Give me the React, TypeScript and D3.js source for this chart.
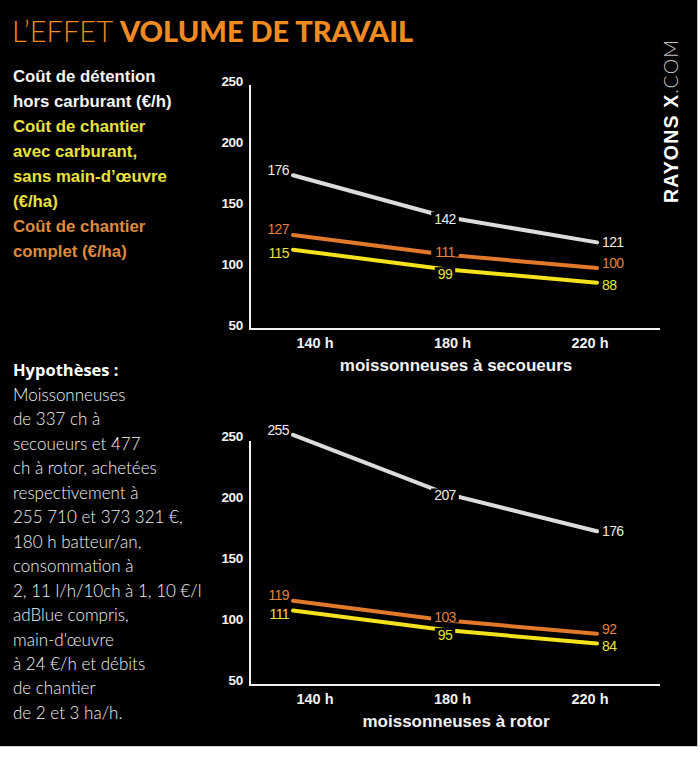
import React from "react";
import * as d3 from "d3";

const categories = ["140 h", "180 h", "220 h"];
const yTicks = [50, 100, 150, 200, 250];

const secoueursDetention = [176, 142, 121];
const secoueursComplet = [127, 111, 100];
const secoueursSansMO = [115, 99, 88];

const rotorDetention = [255, 207, 176];
const rotorComplet = [119, 103, 92];
const rotorSansMO = [111, 95, 84];

const legendLines = [
  { text: "Coût de détention", key: "white" },
  { text: "hors carburant (€/h)", key: "white" },
  { text: "Coût de chantier", key: "yellow" },
  { text: "avec carburant,", key: "yellow" },
  { text: "sans main-d’œuvre", key: "yellow" },
  { text: "(€/ha)", key: "yellow" },
  { text: "Coût de chantier", key: "orange" },
  { text: "complet (€/ha)", key: "orange" },
];

const hypothesesLines = [
  "Moissonneuses",
  "de 337 ch à",
  "secoueurs et 477",
  "ch à rotor, achetées",
  "respectivement à",
  "255 710 et 373 321 €,",
  "180 h batteur/an,",
  "consommation à",
  "2, 11 l/h/10ch à 1, 10 €/l",
  "adBlue compris,",
  "main-d'œuvre",
  "à 24 €/h et débits",
  "de chantier",
  "de 2 et 3 ha/h.",
];

const LINE_COLORS: Record<string, string> = {
  white: "#dcdcdc",
  orange: "#e2782a",
  yellow: "#f3e21c",
};
const LABEL_COLORS: Record<string, string> = {
  white: "#ececec",
  orange: "#e3843a",
  yellow: "#ebe03a",
};
const LEGEND_COLORS: Record<string, string> = {
  white: "#f4f4f4",
  orange: "#df8a3c",
  yellow: "#e9e23e",
};
// vertical label offsets per series: [first, middle, last]
const LABEL_OFFSETS: Record<string, number[]> = {
  white: [-5, 1, 0],
  orange: [-6, -4, -5],
  yellow: [3, 4, 2],
};

const NUM_FONT = "'Liberation Sans', Arial, sans-serif";

type Series = { key: string; values: number[] };

function Chart({
  yRange,
  series,
  title,
  titleY,
  labelDy,
}: {
  yRange: [number, number];
  series: Series[];
  title: string;
  titleY: number;
  labelDy: number;
}) {
  const y = d3.scaleLinear().domain([50, 250]).range(yRange);
  const x = d3.scalePoint<string>().domain(categories).range([293, 597]);
  const xt = d3.scalePoint<string>().domain(categories).range([315, 590]);
  const axisX = 250;
  const axisRight = 660;
  const line = d3
    .line<number>()
    .x((_, i) => x(categories[i]) as number)
    .y((d) => y(d));
  const labelProps = (key: string) => ({
    dominantBaseline: "central" as const,
    fill: LABEL_COLORS[key],
    fontFamily: NUM_FONT,
    fontSize: 14,
    letterSpacing: -0.6,
  });
  return (
    <g>
      <line x1={axisX} x2={axisX} y1={y(250)} y2={y(50)} stroke="#f2f2f2" strokeWidth={2} />
      <line x1={axisX - 1} x2={axisRight} y1={y(50)} y2={y(50)} stroke="#f2f2f2" strokeWidth={2} />
      {yTicks.map((t) => (
        <text
          key={t}
          x={243}
          y={y(t) + labelDy}
          textAnchor="end"
          dominantBaseline="central"
          fill="#f2f2f2"
          fontFamily={NUM_FONT}
          fontWeight={700}
          fontSize={13.5}
          letterSpacing={-0.3}
        >
          {t}
        </text>
      ))}
      {categories.map((c) => (
        <text
          key={c}
          x={xt(c)}
          y={y(50) + 19}
          textAnchor="middle"
          fill="#f2f2f2"
          fontFamily={NUM_FONT}
          fontWeight={700}
          fontSize={14.5}
        >
          {c}
        </text>
      ))}
      <text
        x={456}
        y={titleY}
        textAnchor="middle"
        fill="#f2f2f2"
        fontFamily={NUM_FONT}
        fontWeight={700}
        fontSize={17}
      >
        {title}
      </text>
      {series.map((s) => (
        <path
          key={s.key}
          d={line(s.values) || ""}
          fill="none"
          stroke={LINE_COLORS[s.key]}
          strokeWidth={4}
          strokeLinecap="round"
        />
      ))}
      {series.map((s) =>
        s.values.map((v, i) => {
          const px = x(categories[i]) as number;
          const py = y(v);
          const dy = LABEL_OFFSETS[s.key][i];
          const txt = String(v);
          if (i === 0) {
            return (
              <text key={s.key + i} x={px - 4} y={py + dy} textAnchor="end" {...labelProps(s.key)}>
                {txt}
              </text>
            );
          }
          if (i === categories.length - 1) {
            return (
              <text key={s.key + i} x={px + 5} y={py + dy} textAnchor="start" {...labelProps(s.key)}>
                {txt}
              </text>
            );
          }
          const w = txt.length * 7.2 + 6;
          return (
            <g key={s.key + i}>
              <rect x={px - w / 2} y={py + dy - 6} width={w} height={12} fill="#000" />
              <text x={px} y={py + dy + 1} textAnchor="middle" {...labelProps(s.key)}>
                {txt}
              </text>
            </g>
          );
        })
      )}
    </g>
  );
}

export default function App() {
  const topSeries: Series[] = [
    { key: "white", values: secoueursDetention },
    { key: "orange", values: secoueursComplet },
    { key: "yellow", values: secoueursSansMO },
  ];
  const bottomSeries: Series[] = [
    { key: "white", values: rotorDetention },
    { key: "orange", values: rotorComplet },
    { key: "yellow", values: rotorSansMO },
  ];
  return (
    <svg
      width={700}
      height={758}
      viewBox="0 0 700 758"
      style={{ position: "absolute", left: 0, top: 0, background: "#fff" }}
    >
      <rect x={0} y={0} width={697} height={746} fill="#000" />
      <line x1={697.5} x2={697.5} y1={0} y2={746} stroke="#bdbdbd" strokeWidth={1} />
      <line x1={0} x2={698} y1={746.5} y2={746.5} stroke="#cfcfcf" strokeWidth={1} />

      <text x={12} y={42} fontFamily="Lato, 'Open Sans', sans-serif" fontSize={29} fill="#f08a22">
        <tspan fontWeight={300}>L’EFFET </tspan>
        <tspan fontWeight={900}>VOLUME DE TRAVAIL</tspan>
      </text>

      <text
        transform="translate(678,203) rotate(-90)"
        fontFamily="'Liberation Sans', Arial, sans-serif"
        fontSize={19.5}
        fill="#fff"
        textLength={163}
        lengthAdjust="spacing"
      >
        <tspan fontWeight={700}>RAYONS X</tspan>
        <tspan fontWeight={300} fill="#c4c4c4" fontFamily="Lato, sans-serif">.COM</tspan>
      </text>

      {legendLines.map((l, i) => (
        <text
          key={i}
          x={13}
          y={82 + i * 25}
          fontFamily="'Liberation Sans', Arial, sans-serif"
          fontWeight={700}
          fontSize={16.8}
          fill={LEGEND_COLORS[l.key]}
        >
          {l.text}
        </text>
      ))}

      <text
        x={13}
        y={376}
        fontFamily="'Open Sans', Lato, sans-serif"
        fontWeight={700}
        fontSize={16.5}
        fill="#fff"
      >
        Hypothèses :
      </text>
      {hypothesesLines.map((t, i) => (
        <text
          key={i}
          x={13}
          y={401 + i * 24.45}
          fontFamily="Lato, sans-serif"
          fontWeight={300}
          fontSize={17}
          fill="#f2f2f2"
        >
          {t}
        </text>
      ))}

      <Chart yRange={[329, 85]} series={topSeries} title="moissonneuses à secoueurs" titleY={371} labelDy={-3.5} />
      <Chart yRange={[685, 441]} series={bottomSeries} title="moissonneuses à rotor" titleY={727} labelDy={-4.5} />
    </svg>
  );
}
